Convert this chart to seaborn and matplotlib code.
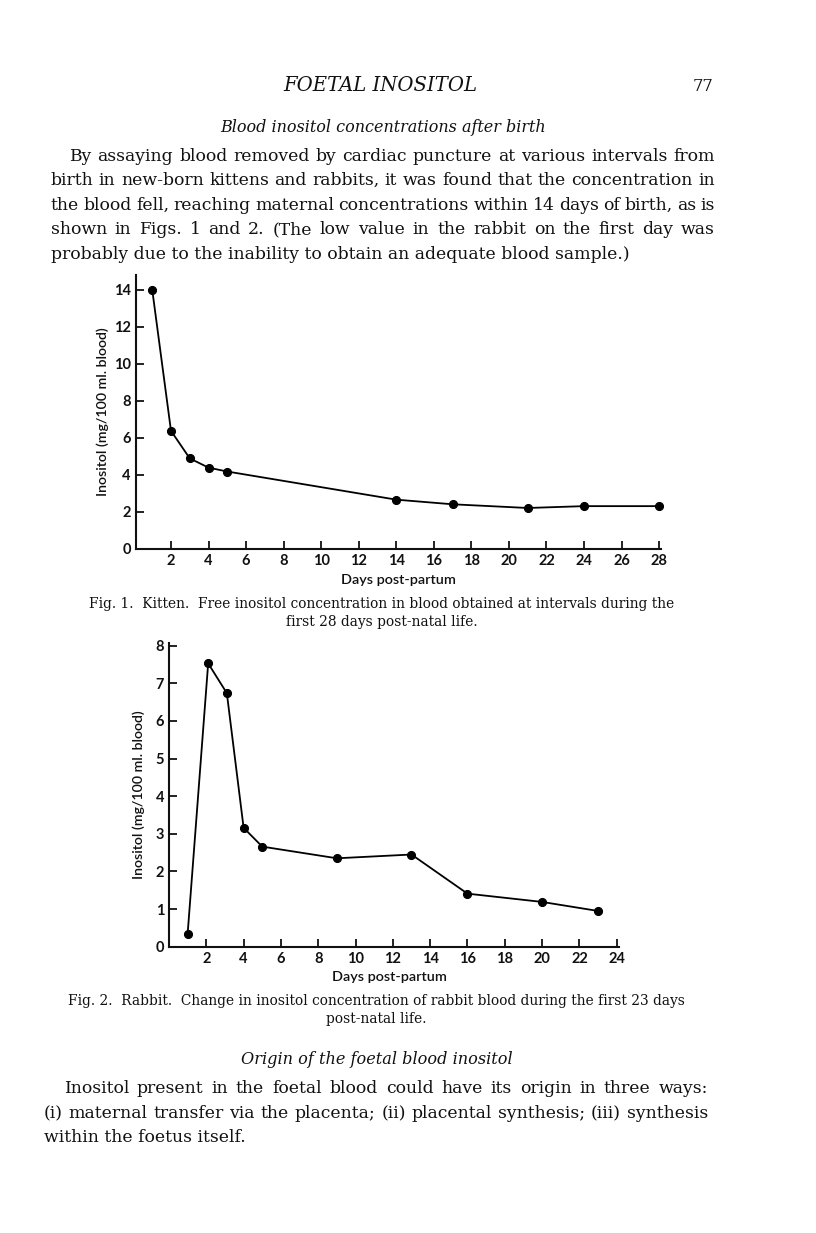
import matplotlib
matplotlib.use("Agg")
import matplotlib.pyplot as plt
import seaborn as sns
import pandas as pd

W, H = 816, 1233

# Fig. 1 - kitten
kitten_days = [1, 2, 3, 4, 5, 14, 17, 21, 24, 28]
kitten_inositol = [14.0, 6.37, 4.88, 4.38, 4.17, 2.65, 2.4, 2.2, 2.3, 2.3]
kitten_xticks = list(range(2, 29, 2))
kitten_yticks = list(range(0, 15, 2))

# Fig. 2 - rabbit
rabbit_days = [1, 2.1, 3.1, 4, 5, 9, 13, 16, 20, 23]
rabbit_inositol = [0.35, 7.53, 6.74, 3.16, 2.66, 2.35, 2.45, 1.41, 1.19, 0.95]
rabbit_xticks = list(range(2, 25, 2))
rabbit_yticks = list(range(0, 9))

ylabel = "Inositol (mg/100 ml. blood)"
xlabel = "Days post-partum"

header = "FOETAL INOSITOL"
page_no = "77"
heading1 = "Blood inositol concentrations after birth"
para1 = [
    "By assaying blood removed by cardiac puncture at various intervals from",
    "birth in new-born kittens and rabbits, it was found that the concentration in",
    "the blood fell, reaching maternal concentrations within 14 days of birth, as is",
    "shown in Figs. 1 and 2. (The low value in the rabbit on the first day was",
    "probably due to the inability to obtain an adequate blood sample.)",
]
caption1 = ["Fig. 1.  Kitten.  Free inositol concentration in blood obtained at intervals during the",
            "first 28 days post-natal life."]
caption2 = ["Fig. 2.  Rabbit.  Change in inositol concentration of rabbit blood during the first 23 days",
            "post-natal life."]
heading2 = "Origin of the foetal blood inositol"
para2 = [
    "Inositol present in the foetal blood could have its origin in three ways:",
    "(i) maternal transfer via the placenta; (ii) placental synthesis; (iii) synthesis",
    "within the foetus itself.",
]

sns.set_style("ticks")
plt.rcParams["font.family"] = ["Lato", "DejaVu Sans"]
SERIF = ["DejaVu Serif"]
INK = "#111111"

fig = plt.figure(figsize=(W / 100, H / 100), dpi=100)
renderer = fig.canvas.get_renderer()


def fx(px):
    return px / W


def fy(py):
    return 1 - py / H


def width_of(t):
    return t.get_window_extent(renderer).width


def plain(s, x, base, size, ha="left", **kw):
    return fig.text(fx(x), fy(base), s, ha=ha, va="baseline", fontsize=size,
                    family=SERIF, color=INK, **kw)


def fitted(s, x, base, width, ha="left", **kw):
    t = plain(s, x, base, 10, ha=ha, **kw)
    t.set_fontsize(10 * width / width_of(t))
    return t


def tight_size(s, width, gap_em=0.24):
    # font size at which the words plus a tight word space fill the width
    words = s.split()
    tmp = [plain(w, 0, -100, 10) for w in words]
    w10 = sum(width_of(t) for t in tmp)
    for t in tmp:
        t.remove()
    return width / (w10 / 10 + (len(words) - 1) * gap_em * 100 / 72)


def justified(s, x0, x1, base, size, **kw):
    words = s.split()
    arts = [plain(w, 0, base, size, **kw) for w in words]
    widths = [width_of(a) for a in arts]
    gap = (x1 - x0 - sum(widths)) / (len(words) - 1)
    x = x0
    for a, w in zip(arts, widths):
        a.set_x(fx(x))
        x += w + gap


def chart(box, days, values, xticks, yticks, xlim, ylim, xlab_xy, ylab_xy):
    left, top, right, bottom = box
    ax = fig.add_axes([fx(left), fy(bottom), (right - left) / W, (bottom - top) / H])
    df = pd.DataFrame({"day": days, "inositol": values})
    sns.lineplot(data=df, x="day", y="inositol", ax=ax, color="black", lw=1.3,
                 marker="o", markersize=5.8, markeredgecolor="black",
                 markerfacecolor="black", estimator=None, sort=False, clip_on=False)
    ax.set_xlim(*xlim)
    ax.set_ylim(*ylim)
    ax.set_xticks(xticks)
    ax.set_yticks(yticks)
    ax.set_xticklabels([str(t) for t in xticks], fontweight="bold", fontsize=10.5)
    ax.set_yticklabels([str(t) for t in yticks], fontweight="bold", fontsize=10.5)
    ax.tick_params(direction="in", length=6, width=1.3, colors=INK)
    ax.tick_params(axis="x", pad=4)
    ax.tick_params(axis="y", pad=3.5)
    sns.despine(ax=ax)
    for side in ["left", "bottom"]:
        ax.spines[side].set_linewidth(1.5)
        ax.spines[side].set_color(INK)
    ax.set_xlabel(xlabel, fontsize=10.4, fontweight="semibold", color=INK)
    ax.set_ylabel(ylabel, fontsize=10.2, fontweight="semibold", color=INK)
    ax.xaxis.set_label_coords(*xlab_xy)
    ax.yaxis.set_label_coords(*ylab_xy)
    ax.xaxis.label.set_va("top")
    ax.patch.set_alpha(0)
    return ax


chart((135.5, 275, 661, 548.7), kitten_days, kitten_inositol, kitten_xticks,
      kitten_yticks, (0.11, 28.1), (0, 14.79), (0.5, -0.092), (-0.051, 0.5))
chart((169, 642.7, 619.3, 946.7), rabbit_days, rabbit_inositol, rabbit_xticks,
      rabbit_yticks, (0, 24.14), (0, 8.08), (0.489, -0.079), (-0.053, 0.5))

# first paragraph: one body size so that the tightest line just fills the measure
starts1 = [69.3, 50.7, 50.7, 50.7]
bases1 = [160.7, 185.2, 209.7, 234.2]
body = min(tight_size(line, 715 - x0) for line, x0 in zip(para1[:4], starts1))
for line, x0, b in zip(para1[:4], starts1, bases1):
    justified(line, x0, 715, b, body)
plain(para1[4], 50.7, 258.7, body)

# running head
fitted(header, 380, 90.7, 194, ha="center", style="italic")
plain(page_no, 713, 90.7, body * 0.95, ha="right")
fitted(heading1, 383, 131.7, 326, ha="center", style="italic")

# captions
cap = fitted(caption2[0], 376.5, 1005, 617, ha="center").get_fontsize()
plain(caption2[1], 376, 1023.3, cap, ha="center")
plain(caption1[0], 382, 608.5, cap, ha="center")
plain(caption1[1], 382, 626, cap, ha="center")

# second section
fitted(heading2, 377, 1064, 272, ha="center", style="italic")
justified(para2[0], 63.6, 708, 1093.3, body)
justified(para2[1], 43.8, 708, 1118.3, body)
plain(para2[2], 43.8, 1141.7, body)

fig.savefig("out.png", dpi=100, facecolor="white")
